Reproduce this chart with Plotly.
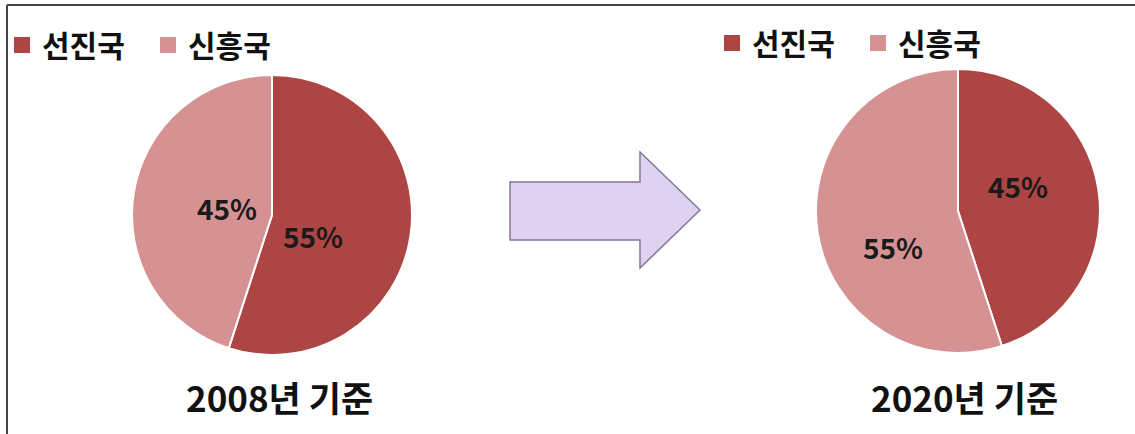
import plotly.graph_objects as go

W, H = 1135, 434

labels = ["선진국", "신흥국"]
share_2008 = [55, 45]
share_2020 = [45, 55]
titles = ["2008년 기준", "2020년 기준"]
colors = ["#AC4544", "#D69293"]

FONT = "Noto Sans CJK KR"

def px(x):
    return x / W

def py(y):
    return 1 - y / H

fig = go.Figure()

# pie geometry (pixels): center x, center y, radius
pies = [(272, 215, 140), (958, 211, 142)]
datas = [share_2008, share_2020]
legends = ["legend", "legend2"]

for (cx, cy, r), vals, lg in zip(pies, datas, legends):
    fig.add_trace(go.Pie(
        labels=labels, values=vals, sort=False, direction="clockwise",
        rotation=0, textinfo="none", hoverinfo="label+percent",
        marker=dict(colors=colors, line=dict(color="white", width=2)),
        domain=dict(x=[px(cx - r), px(cx + r)], y=[py(cy + r), py(cy - r)]),
        showlegend=False,
    ))
    # legend entries (larger square swatches than the pie's built-in ones)
    for lab, col in zip(labels, colors):
        fig.add_trace(go.Scatter(
            x=[None], y=[None], mode="markers", name=lab, legend=lg,
            marker=dict(symbol="square", size=17, color=col),
            hoverinfo="skip", showlegend=True,
        ))

# percentage labels (positions in pixels)
label_pos = [
    [(313, 236), (227, 208)],
    [(1018, 186), (893, 247)],
]
ann = []
for vals, poss in zip(datas, label_pos):
    for v, (x, y) in zip(vals, poss):
        ann.append(dict(x=px(x), y=py(y), xref="paper", yref="paper",
                        xanchor="center", yanchor="middle",
                        text=f"<b>{v}%</b>", showarrow=False,
                        font=dict(family=FONT, size=28, color="#1a1a1a")))

for t, (x, y) in zip(titles, [(279, 396), (965, 396)]):
    ann.append(dict(x=px(x), y=py(y), xref="paper", yref="paper",
                    xanchor="center", yanchor="middle",
                    text=f"<b>{t}</b>", showarrow=False,
                    font=dict(family=FONT, size=35, color="#111111")))

# arrow path (pixels)
pts = [(510, 182), (640, 182), (640, 152), (700, 210), (640, 268), (640, 240), (510, 240)]
path = "M " + " L ".join(f"{px(x)},{py(y)}" for x, y in pts) + " Z"

shapes = [
    dict(type="path", path=path, xref="paper", yref="paper",
         fillcolor="#DDD2F0", line=dict(color="#857796", width=1.5)),
    dict(type="line", xref="paper", yref="paper", x0=px(7), x1=1, y0=py(5), y1=py(5),
         line=dict(color="#444444", width=2)),
    dict(type="line", xref="paper", yref="paper", x0=px(7), x1=px(7), y0=py(5), y1=0,
         line=dict(color="#444444", width=2)),
]

leg_font = dict(family=FONT, size=30, color="#111111", weight="bold")
leg_common = dict(orientation="h", xanchor="left", yanchor="top", font=leg_font,
                  bgcolor="rgba(0,0,0,0)", itemclick=False, itemdoubleclick=False,
                  itemsizing="trace", entrywidth=101, entrywidthmode="pixels")
fig.update_layout(
    width=W, height=H,
    margin=dict(l=0, r=0, t=0, b=0),
    paper_bgcolor="white", plot_bgcolor="white",
    xaxis=dict(visible=False), yaxis=dict(visible=False),
    annotations=ann, shapes=shapes,
    legend=dict(x=px(2), y=py(19), **leg_common),
    legend2=dict(x=px(712), y=py(17), **leg_common),
)

fig.write_html("out.html", config={"displayModeBar": False},
               post_script="document.body.style.margin='0';")
